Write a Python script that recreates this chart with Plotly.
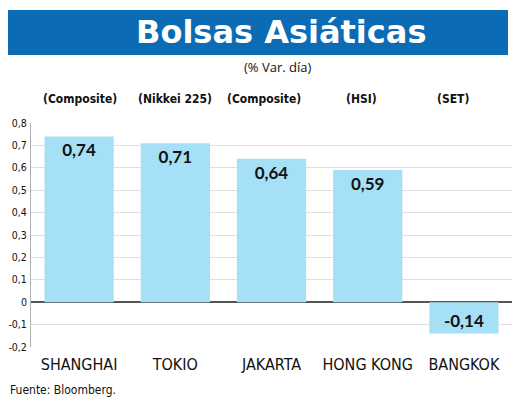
import plotly.graph_objects as go

mercados = ["SHANGHAI", "TOKIO", "JAKARTA", "HONG KONG", "BANGKOK"]
indices = ["(Composite)", "(Nikkei 225)", "(Composite)", "(HSI)", "(SET)"]
variacion = [0.74, 0.71, 0.64, 0.59, -0.14]
etiquetas = ["0,74", "0,71", "0,64", "0,59", "-0,14"]
tick_vals = [-0.2, -0.1, 0, 0.1, 0.2, 0.3, 0.4, 0.5, 0.6, 0.7, 0.8]
tick_text = ["-0,2", "-0,1", "0", "0,1", "0,2", "0,3", "0,4", "0,5", "0,6", "0,7", "0,8"]

narrow = "Liberation Sans Narrow, DejaVu Sans Condensed, Arial Narrow, sans-serif"
sans = "Open Sans, Lato, sans-serif"

fig = go.Figure()
fig.add_trace(go.Bar(
    x=mercados, y=variacion, text=etiquetas,
    textposition="inside", insidetextanchor="end", textangle=0,
    textfont=dict(family="Lato, Open Sans, sans-serif", size=17, color="#111111", weight="bold"),
    marker=dict(color="#a6e0f6", line=dict(width=0)),
    hoverinfo="skip",
))

# index names above each bar (not perfectly centred in the original)
idx_shift = [1, 0, -8, -6, -11]
for m, idx, sh in zip(mercados, indices, idx_shift):
    fig.add_annotation(x=m, y=1.107, xref="x", yref="paper", text=idx,
                       showarrow=False, xanchor="center", yanchor="middle", xshift=sh,
                       font=dict(family=narrow, size=12, color="#111111", weight="bold"))

# title banner
fig.add_shape(type="rect", xref="paper", yref="paper",
              x0=-0.054, x1=0.9917, y0=1.304, y1=1.504,
              fillcolor="#0b6cb5", line=dict(width=0), layer="below")
fig.add_annotation(x=0.52, y=1.406, xref="paper", yref="paper",
                   text="<b>Bolsas Asiáticas</b>", showarrow=False,
                   xanchor="center", yanchor="middle",
                   font=dict(family="DejaVu Sans, sans-serif", size=32, color="white"))
fig.add_annotation(x=0.5135, y=1.25, xref="paper", yref="paper",
                   text="(% Var. día)", showarrow=False,
                   xanchor="center", yanchor="middle",
                   font=dict(family=sans, size=13, color="#111111"))
fig.add_annotation(x=-0.0478, y=-0.192, xref="paper", yref="paper",
                   text="Fuente: Bloomberg.", showarrow=False,
                   xanchor="left", yanchor="middle",
                   font=dict(family=narrow, size=12, color="#111111"))

# page body has an 8px margin, so the figure is drawn 8px smaller
fig.update_layout(
    width=512, height=399,
    margin=dict(l=23, r=8, t=115, b=60),
    paper_bgcolor="white", plot_bgcolor="white",
    bargap=0.28, showlegend=False,
    xaxis=dict(showline=False, ticks="", automargin=False, ticklabelstandoff=6,
               tickfont=dict(family=narrow, size=16, color="#111111")),
    yaxis=dict(range=[-0.2, 0.8], tickvals=tick_vals, ticktext=tick_text,
               automargin=False, ticklabelstandoff=1,
               showgrid=True, gridcolor="#e0e0e0", gridwidth=1,
               showline=True, linecolor="#b0b0b0", linewidth=1,
               zeroline=True, zerolinecolor="#555555", zerolinewidth=1.5,
               tickfont=dict(family=narrow, size=10.5, color="#111111"), ticks=""),
)

fig.write_html("out.html")
